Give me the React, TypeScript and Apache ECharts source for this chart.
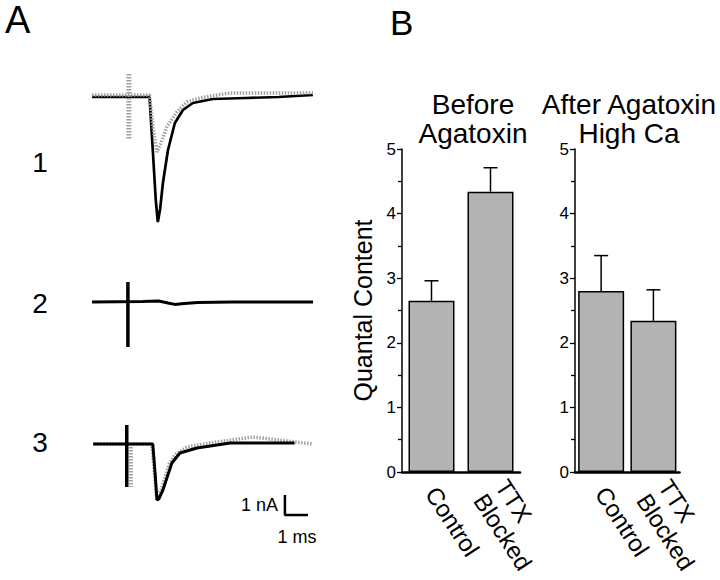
import React, { useEffect, useRef } from "react";
import * as echarts from "echarts";

// ---- Panel B data ----
const categories = ["Control", "TTX\nBlocked"];
const beforeMeans = [2.65, 4.34];
const beforeSem = [0.31, 0.37];
const afterMeans = [2.8, 2.34];
const afterSem = [0.55, 0.48];
const yTicks = [0, 1, 2, 3, 4, 5];

// ---- Panel A traces: [time ms, current nA] ----
const trace1Black = [[-1.6, 0], [0.9, 0], [1.04, -2.65], [1.17, -5.15], [1.26, -6.25], [1.36, -5.6], [1.48, -4.3], [1.7, -2.65], [2.0, -1.3], [2.35, -0.65], [2.78, -0.3], [3.65, -0.1], [5.1, -0.05], [6.5, 0], [8.0, 0.1]];
const trace1Gray = [[-1.6, 0.1], [0.9, 0.1], [1.05, -1.5], [1.22, -2.75], [1.4, -2.3], [1.65, -1.5], [2.09, -0.75], [2.52, -0.25], [3.09, -0.05], [4.39, 0.2], [6.57, 0.2], [8.0, 0.2]];
const trace1GrayArtifact = [[0, 1.15], [0, -2.15]];
const trace2Black = [[-1.6, 0], [0.6, 0.03], [1.3, 0.05], [1.7, -0.05], [2.0, -0.12], [2.4, -0.08], [3.0, -0.03], [4.5, 0], [8.0, 0]];
const trace2Artifact = [[-0.04, 1.0], [-0.04, -2.25]];
const trace3Black = [[-1.55, 0], [1.04, 0], [1.15, -1.6], [1.22, -2.8], [1.3, -2.75], [1.48, -2.3], [1.87, -0.95], [2.22, -0.45], [2.96, -0.2], [4.4, 0.05], [7.2, 0.05]];
const trace3Gray = [[-1.5, 0], [1.0, 0], [1.2, -2.6], [1.4, -2.3], [1.75, -1.0], [2.0, -0.55], [2.52, -0.15], [3.5, 0.05], [5.4, 0.35], [6.5, 0.2], [8.0, 0]];
const trace3Artifact = [[-0.09, 0.95], [-0.09, -2.15]];
const trace3GrayArtifact = [[0.09, 0], [0.09, -2.15]];
const scaleBar = [[6.78, -2.55], [6.78, -3.55], [7.78, -3.55]];

const FONT = "'Liberation Sans', Arial, Helvetica, sans-serif";

function errorRender(params: any, api: any) {
  const x = api.value(0);
  const m = api.value(1);
  const e = api.value(2);
  const p0 = api.coord([x, m]);
  const p1 = api.coord([x, m + e]);
  return {
    type: "group",
    children: [
      { type: "line", shape: { x1: p0[0], y1: p0[1], x2: p1[0], y2: p1[1] }, style: { stroke: "#000", lineWidth: 1.5 } },
      { type: "line", shape: { x1: p1[0] - 7, y1: p1[1], x2: p1[0] + 7, y2: p1[1] }, style: { stroke: "#000", lineWidth: 1.5 } },
    ],
  };
}

export default function App() {
  const ref = useRef<HTMLDivElement>(null);
  useEffect(() => {
    document.body.style.margin = "0";
    const chart = echarts.init(ref.current!, null, { renderer: "svg" });

    const hiddenX = (gi: number) => ({ type: "value", gridIndex: gi, min: -1.6, max: 8.0, show: false });
    const hiddenY = (gi: number, min: number, max: number) => ({ type: "value", gridIndex: gi, min, max, show: false });

    const barY = (gi: number, name: string) => ({
      type: "value",
      gridIndex: gi,
      min: 0,
      max: 5,
      interval: 1,
      name,
      nameLocation: "middle",
      nameGap: 27,
      nameRotate: 90,
      nameTextStyle: { fontSize: 25, color: "#000", fontFamily: FONT },
      axisLine: { show: true, lineStyle: { color: "#000", width: 1.5 } },
      axisTick: { show: true, length: 5, lineStyle: { color: "#000", width: 1.3 } },
      minorTick: { show: true, splitNumber: 2, length: 4, lineStyle: { color: "#000", width: 1.3 } },
      splitLine: { show: false },
      axisLabel: { fontSize: 17, color: "#000", fontFamily: FONT, margin: 6, formatter: (v: number) => (yTicks.includes(v) ? String(v) : "") },
    });
    const barX = (gi: number) => ({
      type: "category",
      gridIndex: gi,
      data: categories,
      axisLine: { show: true, lineStyle: { color: "#000", width: 2.5 } },
      axisTick: { show: false },
      axisLabel: { rotate: -57, fontSize: 24, lineHeight: 26, color: "#000", fontFamily: FONT, margin: 17, interval: 0 },
    });

    const trace = (data: number[][], gi: number, gray: boolean, width = 2.7) => ({
      type: "line",
      xAxisIndex: gi,
      yAxisIndex: gi,
      data,
      showSymbol: false,
      silent: true,
      lineStyle: gray ? { color: "#a0a0a0", width, type: [1.5, 1.5] } : { color: "#000", width },
    });

    chart.setOption({
      animation: false,
      backgroundColor: "#fff",
      textStyle: { fontFamily: FONT },
      title: [
        { text: "Before\nAgatoxin", left: 468, top: 85, textAlign: "center", textStyle: { fontSize: 28, lineHeight: 29, fontWeight: "normal", color: "#000", fontFamily: FONT } },
        { text: "After Agatoxin\nHigh Ca", left: 624, top: 85, textAlign: "center", textStyle: { fontSize: 28, lineHeight: 29, fontWeight: "normal", color: "#000", fontFamily: FONT } },
      ],
      grid: [
        { left: 92, top: 57, width: 221, height: 180 },
        { left: 92, top: 262, width: 221, height: 100 },
        { left: 92, top: 404, width: 221, height: 120 },
        { left: 402, top: 149, width: 118, height: 323 },
        { left: 575, top: 149, width: 118, height: 323 },
      ],
      xAxis: [hiddenX(0), hiddenX(1), hiddenX(2), barX(3), barX(4)],
      yAxis: [hiddenY(0, -7, 2), hiddenY(1, -3, 2), hiddenY(2, -4, 2), barY(3, "Quantal Content"), barY(4, "")],
      series: [
        trace(trace1Black, 0, false),
        trace(trace1Gray, 0, true, 3.5),
        trace(trace1GrayArtifact, 0, true, 5),
        trace(trace2Black, 1, false, 3),
        trace(trace2Artifact, 1, false, 3.5),
        trace(trace3Gray, 2, true, 3.5),
        trace(trace3GrayArtifact, 2, true, 4),
        trace(trace3Black, 2, false, 3),
        trace(trace3Artifact, 2, false, 3.5),
        trace(scaleBar, 2, false, 2.5),
        {
          type: "bar", xAxisIndex: 3, yAxisIndex: 3, data: beforeMeans, barWidth: 46,
          itemStyle: { color: "#b3b3b3", borderColor: "#000", borderWidth: 1.5 },
        },
        {
          type: "custom", xAxisIndex: 3, yAxisIndex: 3, renderItem: errorRender,
          data: beforeMeans.map((m, i) => [i, m, beforeSem[i]]), z: 3,
        },
        {
          type: "bar", xAxisIndex: 4, yAxisIndex: 4, data: afterMeans, barWidth: 46,
          itemStyle: { color: "#b3b3b3", borderColor: "#000", borderWidth: 1.5 },
        },
        {
          type: "custom", xAxisIndex: 4, yAxisIndex: 4, renderItem: errorRender,
          data: afterMeans.map((m, i) => [i, m, afterSem[i]]), z: 3,
        },
      ],
      graphic: [
        { type: "text", x: 5, y: 20, style: { text: "A", fontSize: 38, fill: "#000", fontFamily: FONT, align: "left", verticalAlign: "middle" } },
        { type: "text", x: 390, y: 22, style: { text: "B", fontSize: 35, fill: "#000", fontFamily: FONT, align: "left", verticalAlign: "middle" } },
        { type: "text", x: 40, y: 162, style: { text: "1", fontSize: 28, fill: "#000", fontFamily: FONT, align: "center", verticalAlign: "middle" } },
        { type: "text", x: 40, y: 303, style: { text: "2", fontSize: 28, fill: "#000", fontFamily: FONT, align: "center", verticalAlign: "middle" } },
        { type: "text", x: 40, y: 442, style: { text: "3", fontSize: 28, fill: "#000", fontFamily: FONT, align: "center", verticalAlign: "middle" } },
        { type: "text", x: 278, y: 505, style: { text: "1 nA", fontSize: 18, fill: "#000", fontFamily: FONT, align: "right", verticalAlign: "middle" } },
        { type: "text", x: 297, y: 537, style: { text: "1 ms", fontSize: 18, fill: "#000", fontFamily: FONT, align: "center", verticalAlign: "middle" } },
      ],
    });
    return () => chart.dispose();
  }, []);
  return <div ref={ref} style={{ width: 720, height: 580 }} />;
}
